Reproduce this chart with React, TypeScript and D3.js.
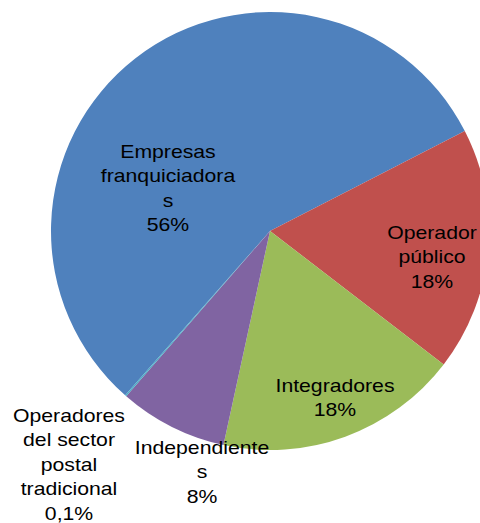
import React from "react";
import * as d3 from "d3";

const categories = [
  "Empresas franquiciadoras",
  "Operador público",
  "Integradores",
  "Independientes",
  "Operadores del sector postal tradicional",
];
const values = [56, 18, 18, 8, 0.1];
const valueLabels = ["56%", "18%", "18%", "8%", "0,1%"];
const labelLines = [
  ["Empresas", "franquiciadora", "s"],
  ["Operador", "público"],
  ["Integradores"],
  ["Independiente", "s"],
  ["Operadores", "del sector", "postal", "tradicional"],
];
const colors = ["#4F81BD", "#C0504D", "#9BBB59", "#8064A2", "#4BACC6"];

// label anchor (center x, first baseline y) — layout only
const labelPos: [number, number][] = [
  [168, 158],
  [432, 239],
  [335, 392],
  [202, 454],
  [69, 422],
];

export default function App() {
  const W = 480, H = 523;
  const cx = 270, cy = 231, r = 219;
  const startDeg = 221.4 - 360;
  const pie = d3
    .pie<number>()
    .sort(null)
    .value((d) => d)
    .startAngle((startDeg * Math.PI) / 180)
    .endAngle(((startDeg + 360) * Math.PI) / 180);
  const arcs = pie(values);
  const arc = d3.arc<d3.PieArcDatum<number>>().innerRadius(0).outerRadius(r);
  const lh = 24.5;
  return (
    <svg
      width={W}
      height={H}
      style={{ position: "absolute", left: 0, top: 0, display: "block" }}
    >
      <rect width={W} height={H} fill="#fff" />
      <g transform={`translate(${cx},${cy})`}>
        {arcs.map((a, i) => (
          <path key={i} d={arc(a) || ""} fill={colors[i]} />
        ))}
      </g>
      {labelLines.map((lines, i) => {
        const [x, y] = labelPos[i];
        const all = [...lines, valueLabels[i]];
        return (
          <text
            key={i}
            fontFamily="'Liberation Sans', Arial, sans-serif"
            fontSize={18.6}
            fill="#000"
            textAnchor="middle"
            transform={`translate(${x},${y}) scale(1.14,1)`}
          >
            {all.map((t, j) => (
              <tspan key={j} x={0} y={j * lh}>
                {t}
              </tspan>
            ))}
          </text>
        );
      })}
    </svg>
  );
}
